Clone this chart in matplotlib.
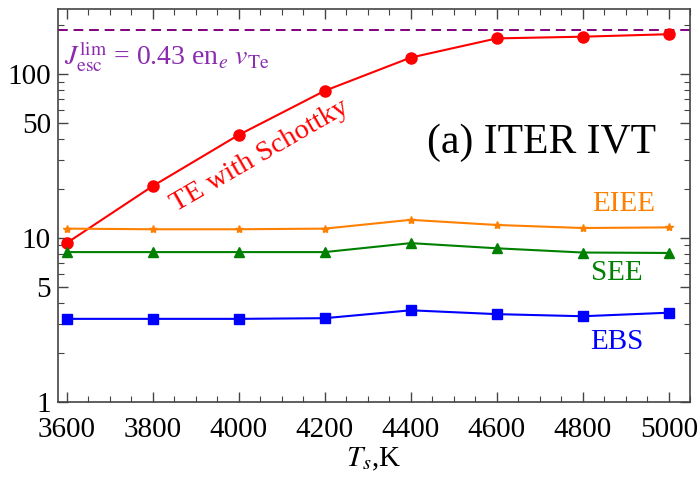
import matplotlib
matplotlib.use('Agg')
import matplotlib.pyplot as plt
from matplotlib.ticker import FixedLocator, MultipleLocator, NullFormatter

plt.rcParams['font.family'] = ['Liberation Serif', 'DejaVu Serif']
plt.rcParams['mathtext.fontset'] = 'stix'

ts = [3600, 3800, 4000, 4200, 4400, 4600, 4800, 5000]
te_schottky = [9.3, 20.7, 42.5, 79, 126, 165, 169, 175]
eiee = [11.4, 11.3, 11.3, 11.4, 12.9, 12.0, 11.5, 11.6]
see = [8.2, 8.2, 8.2, 8.2, 9.3, 8.65, 8.15, 8.1]
ebs = [3.21, 3.21, 3.21, 3.24, 3.62, 3.43, 3.33, 3.5]
j_lim = 185

yticks = [1, 5, 10, 50, 100]
yminor = [2, 3, 4, 6, 7, 8, 9, 20, 30, 40, 60, 70, 80, 90, 200]

fig = plt.figure(figsize=(6.98, 4.79), dpi=100)
ax = fig.add_axes([0.083, 0.161, 0.906, 0.820])

ax.axhline(j_lim, color='#800080', lw=1.4, ls=(0, (5, 3)))
ax.plot(ts, te_schottky, '-o', color='red', lw=1.5, ms=8)
ax.plot(ts, eiee, '-*', color='#ff8000', lw=1.5, ms=6)
ax.plot(ts, see, '-^', color='#008000', lw=1.5, ms=6.5)
ax.plot(ts, ebs, '-s', color='blue', lw=1.5, ms=6.5)

ax.set_yscale('log')
ax.set_xlim(3580, 5050)
ax.set_ylim(1, 249)
ax.yaxis.set_major_locator(FixedLocator(yticks))
ax.yaxis.set_minor_locator(FixedLocator(yminor))
ax.yaxis.set_minor_formatter(NullFormatter())
ax.set_yticklabels([str(v) for v in yticks])
ax.xaxis.set_major_locator(MultipleLocator(200))
ax.xaxis.set_minor_locator(MultipleLocator(50))

ax.tick_params(which='both', direction='in', top=True, right=True,
               labelsize=21, color='#444444')
ax.tick_params(which='major', length=7, width=1)
ax.tick_params(which='minor', length=4, width=0.8)
ax.tick_params(axis='x', pad=11)
ax.tick_params(axis='y', pad=5)
for s in ax.spines.values():
    s.set_color('#444444')
    s.set_linewidth(1.2)

ax.set_xlabel(r'$T_s$,K', fontsize=21, labelpad=2)

ax.text(3593, 127, r'$J_{\rm esc}^{\rm lim}$ = 0.43 en$_e$ $v_{\rm Te}$',
        color='#8a2bb0', fontsize=20, va='center', ha='left')
ax.text(4050, 31.5, 'TE with Schottky', color='red', fontsize=20.5,
        rotation=30, ha='center', va='center')
ax.text(4970, 38, '(a) ITER IVT', fontsize=30, ha='right', va='center')
ax.text(4895, 16.1, 'EIEE', color='#ff8000', fontsize=21, ha='center', va='center')
ax.text(4880, 6.1, 'SEE', color='#008000', fontsize=21, ha='center', va='center')
ax.text(4880, 2.32, 'EBS', color='blue', fontsize=21, ha='center', va='center')

fig.savefig('out.png', dpi=100)
